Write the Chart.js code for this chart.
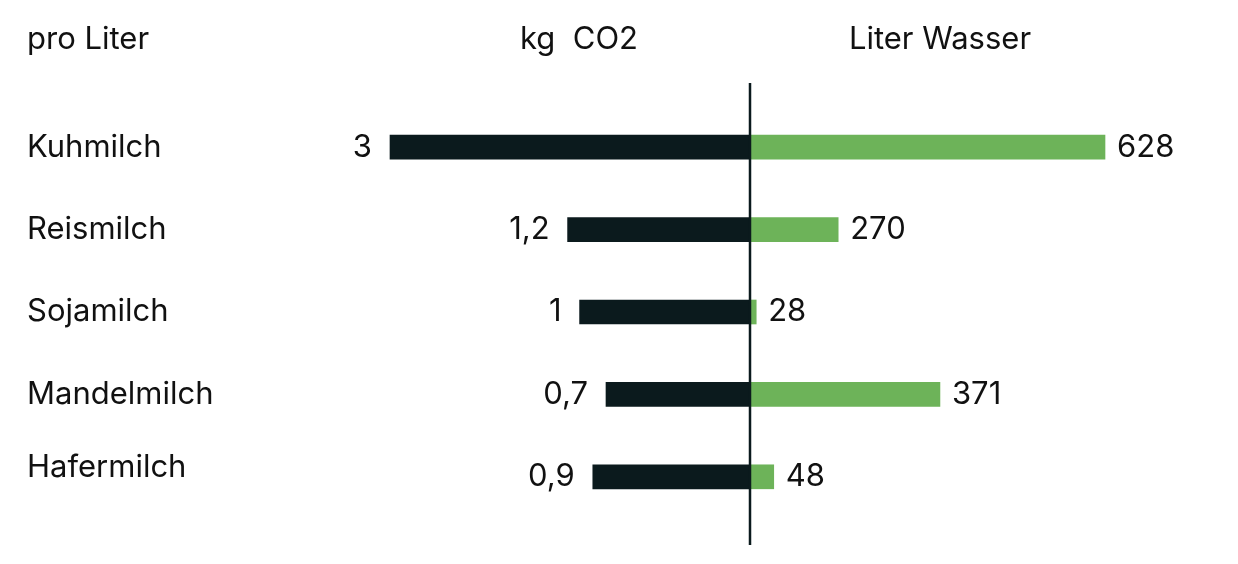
<!DOCTYPE html>
<html lang="de">
<head>
<meta charset="utf-8">
<script src="https://cdn.jsdelivr.net/npm/chart.js@4"></script>
<style>
  html, body { margin: 0; padding: 0; background: #fff; }
  #wrap { width: 1238px; height: 564px; position: relative; }
</style>
</head>
<body>
<div id="wrap"><canvas id="milkChart"></canvas></div>
<script>
// Milchsorten und Werte pro Liter
const milks = ['Kuhmilch', 'Reismilch', 'Sojamilch', 'Mandelmilch', 'Hafermilch'];
const co2Values = [3, 1.2, 1, 0.7, 0.9];
const waterValues = [628, 270, 28, 371, 48];
// Balkenlängen wie in der Grafik gezeichnet (nicht proportional zu den Beschriftungen)
const co2Bars = [3, 1.52, 1.42, 1.2, 1.31];
const waterBars = [628, 156, 11, 336, 42];

const headers = ['pro Liter', 'kg  CO2', 'Liter Wasser'];

const DARK = '#0b1a1d';
const GREEN = '#6db359';
const FONT = '"Inter", "Noto Sans", sans-serif';

const fmt = v => String(v).replace('.', ',');

// labels, headers and the middle line
const labelPlugin = {
  id: 'labelPlugin',
  afterDatasetsDraw(chart) {
    const ctx = chart.ctx;
    const xw = chart.scales.xw;
    const mid = xw.getPixelForValue(0);

    ctx.save();
    ctx.strokeStyle = DARK;
    ctx.lineWidth = 2.5;
    ctx.beginPath();
    ctx.moveTo(mid, 83);
    ctx.lineTo(mid, 545);
    ctx.stroke();

    ctx.fillStyle = '#111';
    ctx.font = '400 31px ' + FONT;
    ctx.textBaseline = 'middle';

    ctx.textAlign = 'left';
    ctx.fillText(headers[0], 27, 40);
    ctx.textAlign = 'center';
    ctx.fillText(headers[1], 579, 40);
    ctx.fillText(headers[2], 940, 40);

    const left = chart.getDatasetMeta(0).data;
    const right = chart.getDatasetMeta(1).data;
    milks.forEach((m, i) => {
      const y = left[i].y;
      ctx.textAlign = 'left';
      ctx.fillText(m, 27, i === 4 ? y - 9 : y);
      ctx.textAlign = 'right';
      ctx.fillText(fmt(co2Values[i]), left[i].x - 18, y);
      ctx.textAlign = 'left';
      ctx.fillText(fmt(waterValues[i]), right[i].x + 12, y);
    });
    ctx.restore();
  }
};

// 0 liegt bei x=750; 3 kg = 360px, 628 l = 355px
const W = 1238, MID = 750;
const co2Px = 360 / 3;
const waterPx = 355 / 628;

new Chart(document.getElementById('milkChart'), {
  type: 'bar',
  data: {
    labels: milks,
    datasets: [
      {
        label: 'kg CO2',
        data: co2Bars.map(v => -v),
        backgroundColor: DARK,
        xAxisID: 'xc',
        grouped: false,
        barThickness: 24,
        order: 1
      },
      {
        label: 'Liter Wasser',
        data: waterBars,
        backgroundColor: GREEN,
        xAxisID: 'xw',
        grouped: false,
        barThickness: 24,
        order: 2
      }
    ]
  },
  options: {
    indexAxis: 'y',
    responsive: true,
    maintainAspectRatio: false,
    animation: false,
    layout: { padding: { top: 106, bottom: 46, left: 0, right: 0 } },
    scales: {
      xc: {
        type: 'linear',
        display: false,
        min: -MID / co2Px,
        max: (W - MID) / co2Px
      },
      xw: {
        type: 'linear',
        display: false,
        min: -MID / waterPx,
        max: (W - MID) / waterPx
      },
      y: { display: false }
    },
    plugins: {
      legend: { display: false },
      tooltip: { enabled: false }
    }
  },
  plugins: [labelPlugin]
});
</script>
</body>
</html>
